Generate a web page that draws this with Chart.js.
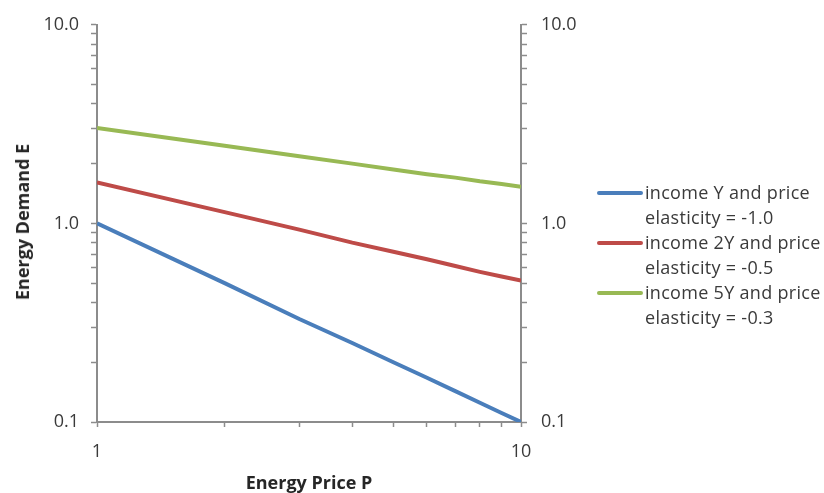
<!DOCTYPE html>
<html><head><meta charset="utf-8">
<script src="https://cdn.jsdelivr.net/npm/chart.js@4/dist/chart.umd.min.js"></script>
<style>
html,body{margin:0;padding:0;background:#fff;}
#wrap{position:relative;width:824px;height:493px;overflow:hidden;}
#legend{position:absolute;left:597px;top:180px;font-family:"Open Sans",sans-serif;font-size:18px;letter-spacing:0.3px;color:#3a3a3a;line-height:25px;}
.item{position:relative;padding-left:48px;white-space:nowrap;}
.sw{position:absolute;left:0;top:11px;width:46px;height:4px;border-radius:2px;}
#ytitle{position:absolute;left:22px;top:222px;transform:translate(-50%,-50%) rotate(-90deg);font-family:"Open Sans",sans-serif;font-weight:bold;font-size:18px;color:#262626;white-space:nowrap;}
</style></head>
<body><div id="wrap"><canvas id="c" width="824" height="493"></canvas><div id="legend"></div><div id="ytitle"></div></div>
<script>
const priceP = [1, 2, 3, 4, 5, 6, 7, 8, 9, 10];
const seriesNames = [
  ["income Y and price", "elasticity = -1.0"],
  ["income 2Y and price", "elasticity = -0.5"],
  ["income 5Y and price", "elasticity = -0.3"]
];
const demandY  = [1.0, 0.50, 0.33, 0.25, 0.20, 0.167, 0.143, 0.125, 0.111, 0.10];
const demand2Y = [1.61, 1.14, 0.93, 0.80, 0.72, 0.66, 0.61, 0.57, 0.54, 0.515];
const demand5Y = [3.02, 2.46, 2.18, 2.00, 1.87, 1.77, 1.70, 1.63, 1.58, 1.53];
const yTickValues = [0.1,0.2,0.3,0.4,0.5,0.6,0.7,0.8,0.9,1,2,3,4,5,6,7,8,9,10];
const yTickLabels = [0.1, 1, 10];
const xTickValues = [1, 2, 3, 4, 5, 6, 7, 8, 9, 10];
const xTickLabels = [1, 10];
const xTitle = 'Energy Price P';
const yTitle = 'Energy Demand E';

const colors = ['#4A7EBB', '#BE4B48', '#98B954'];
const allSeries = [demandY, demand2Y, demand5Y];

const datasets = allSeries.map((s, i) => ({
  label: seriesNames[i].join(' '),
  data: priceP.map((p, j) => ({x: p, y: s[j]})),
  borderColor: colors[i], backgroundColor: colors[i],
  borderWidth: 4, pointRadius: 0, tension: 0, yAxisID: 'y'
}));
datasets.push({label:'_r', data: [], yAxisID: 'y2', showLine:false});

const axisColor = '#8c8c8c';
const tickFont = {family: '"Open Sans", sans-serif', size: 18};
function yCb(v){ return yTickLabels.some(t => Math.abs(t - v) < 1e-9) ? Number(v).toFixed(1) : ''; }
function yScale(pos, pad, w){
  return {
    type: 'logarithmic', min: 0.1, max: 10, position: pos,
    afterBuildTicks: s => { s.ticks = yTickValues.map(v => ({value: v})); },
    border: {display: true, color: axisColor, width: 2},
    grid: {drawOnChartArea: false, drawTicks: true, tickLength: 6, color: axisColor, tickWidth: 1.5},
    ticks: {autoSkip: false, color: '#3a3a3a', font: tickFont, padding: pad, callback: yCb},
    afterFit: s => { s.width = w; }
  };
}

new Chart(document.getElementById('c'), {
  type: 'line',
  data: {datasets},
  options: {
    responsive: false, animation: false,
    layout: {padding: {top: 24, right: 223, bottom: 0, left: 0}},
    plugins: {legend: {display: false}, tooltip: {enabled: false}},
    scales: {
      x: {
        type: 'logarithmic', min: 1, max: 10,
        afterBuildTicks: s => { s.ticks = xTickValues.map(v => ({value: v})); },
        border: {display: true, color: axisColor, width: 2},
        grid: {drawOnChartArea: false, drawTicks: true, tickLength: 5, color: axisColor, tickWidth: 1.5},
        ticks: {autoSkip: false, maxRotation: 0, color: '#3a3a3a', font: tickFont, padding: 14,
          callback: v => xTickLabels.includes(Number(v)) ? String(v) : ''},
        title: {display: true, text: xTitle, color: '#262626',
          font: {family: '"Open Sans", sans-serif', size: 18, weight: 'bold'}, padding: {top: 12, bottom: -2}},
        afterFit: s => { s.height = 71; }
      },
      y: yScale('left', 12, 97),
      y2: yScale('right', 14, 80)
    }
  }
});

document.getElementById('ytitle').textContent = yTitle;
const lg = document.getElementById('legend');
seriesNames.forEach((lines, i) => {
  const d = document.createElement('div');
  d.className = 'item';
  d.innerHTML = '<span class="sw" style="background:' + colors[i] + '"></span>' + lines.join('<br>');
  lg.appendChild(d);
});
</script>
</body></html>
